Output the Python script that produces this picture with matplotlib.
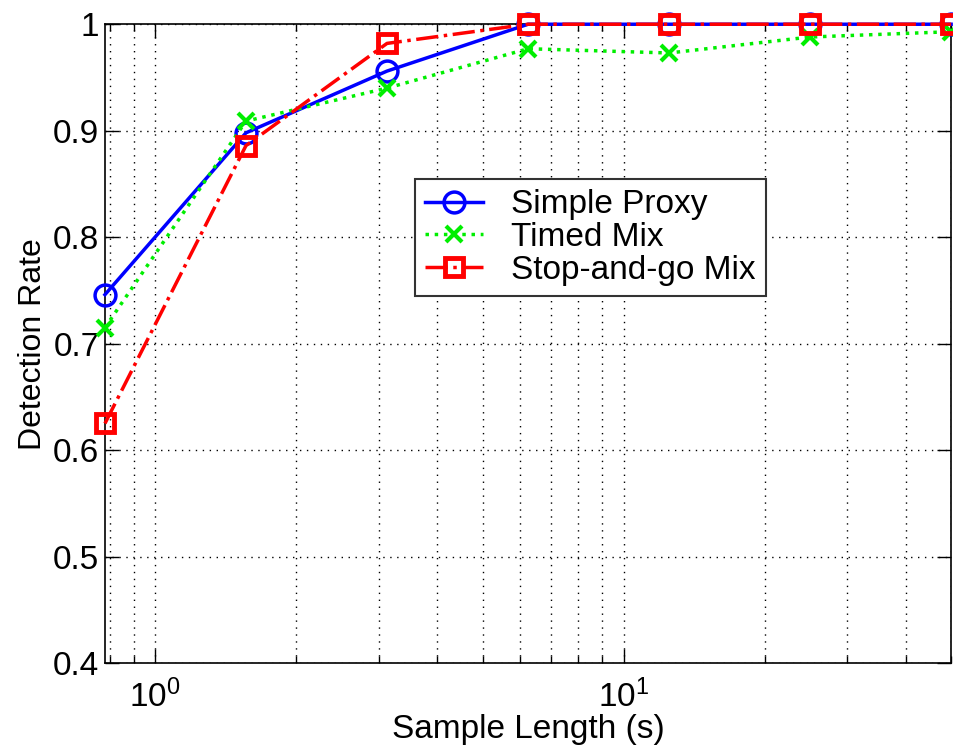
import matplotlib.pyplot as plt
from matplotlib.ticker import LogLocator, FixedLocator, NullFormatter

plt.rcParams['font.family'] = ['Liberation Sans', 'DejaVu Sans']
plt.rcParams['mathtext.fontset'] = 'custom'
plt.rcParams['mathtext.rm'] = 'Liberation Sans'
plt.rcParams['mathtext.it'] = 'Liberation Sans'

# Sample lengths (s), doubling each step
sample_len = [0.78125, 1.5625, 3.125, 6.25, 12.5, 25, 50]

# Detection rates
simple_proxy = [0.746, 0.898, 0.956, 1.0, 1.0, 1.0, 1.0]
timed_mix = [0.715, 0.909, 0.940, 0.977, 0.973, 0.988, 0.993]
stop_and_go = [0.625, 0.886, 0.982, 1.0, 1.0, 1.0, 1.0]

fig = plt.figure(figsize=(9.54, 7.48), dpi=100)
ax = fig.add_axes([0.110, 0.1136, 0.887, 0.854])

ax.plot(sample_len, simple_proxy, color='#0000ff', linestyle='-', linewidth=2.5,
        marker='o', markersize=15, markerfacecolor='none', markeredgewidth=2.5,
        label='Simple Proxy', clip_on=False, zorder=3)
ax.plot(sample_len, timed_mix, color='#00ee00', linestyle=':', linewidth=2.5,
        marker='x', markersize=11, markeredgewidth=3,
        label='Timed Mix', clip_on=False, zorder=4)
ax.plot(sample_len, stop_and_go, color='#ff0000', linestyle='-.', linewidth=2.5,
        marker='s', markersize=13, markerfacecolor='none', markeredgewidth=3.5,
        label='Stop-and-go Mix', clip_on=False, zorder=5)

ax.set_xscale('log')
ax.set_xlim(sample_len[0], sample_len[-1])
ax.set_ylim(0.4, 1.0)
ax.set_yticks([0.4, 0.5, 0.6, 0.7, 0.8, 0.9, 1.0])
ax.set_yticklabels(['0.4', '0.5', '0.6', '0.7', '0.8', '0.9', '1'])
ax.xaxis.set_major_locator(FixedLocator([1, 10]))
ax.set_xticklabels(['$10^{0}$', '$10^{1}$'])
ax.xaxis.set_minor_locator(LogLocator(base=10, subs=range(2, 10)))
ax.xaxis.set_minor_formatter(NullFormatter())

ax.grid(True, which='major', color='black', linestyle=(0, (1, 4)), linewidth=1)
ax.grid(True, which='minor', axis='x', color='black', linestyle=(0, (1, 4)), linewidth=1)
ax.tick_params(which='both', direction='in', top=True, right=True, labelsize=24)
ax.tick_params(which='major', length=10, width=1)
ax.tick_params(which='minor', length=5, width=1)
ax.tick_params(axis='x', pad=12)
ax.tick_params(axis='y', pad=4)
for s in ax.spines.values():
    s.set_linewidth(1.2)

ax.set_xlabel('Sample Length (s)', fontsize=24, labelpad=0)
ax.set_ylabel('Detection Rate', fontsize=23, labelpad=4)

leg = ax.legend(loc='upper left', bbox_to_anchor=(0.366, 0.757), borderaxespad=0,
                fontsize=24, fancybox=False, framealpha=1, edgecolor='#333333',
                handlelength=1.75, handletextpad=0.85, labelspacing=0.05,
                borderpad=0.3)
leg.get_frame().set_linewidth(1.5)

plt.savefig('out.png', dpi=100)
